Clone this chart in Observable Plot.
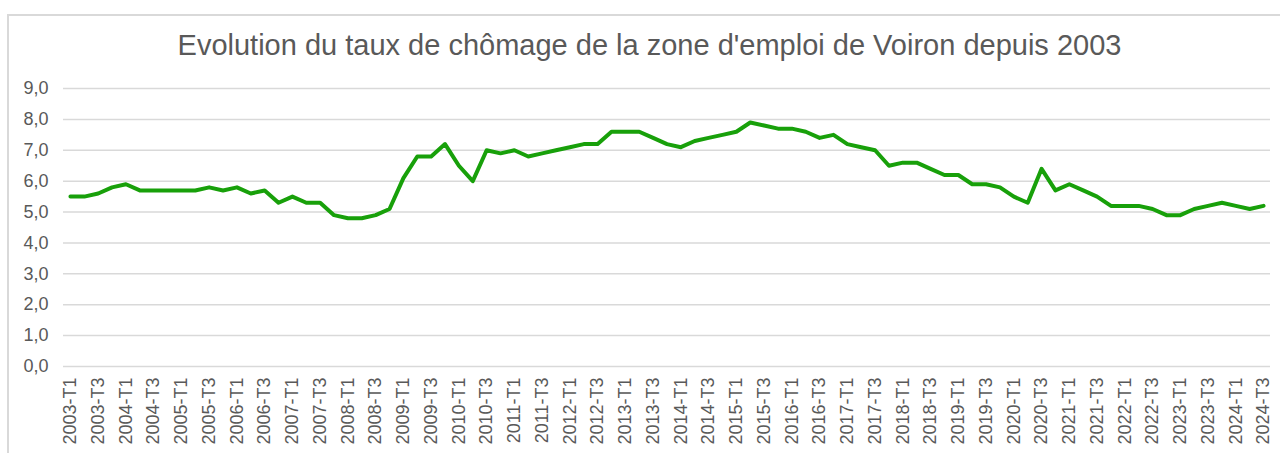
<!DOCTYPE html>
<html>
<head>
<meta charset="utf-8">
<script src="https://cdn.jsdelivr.net/npm/d3@7"></script>
<script src="https://cdn.jsdelivr.net/npm/@observablehq/plot@0.6"></script>
<style>
  html, body { margin: 0; padding: 0; background: #ffffff; width: 1280px; height: 453px; overflow: hidden; }
  #frame { position: absolute; left: 7px; top: 14px; width: 1400px; height: 600px; border-left: 2px solid #d9d9d9; border-top: 2px solid #d9d9d9; box-sizing: border-box; }
  #title { position: absolute; left: 0; top: 31px; width: 1299px; text-align: center; font-family: "Liberation Sans", Arial, sans-serif; font-size: 29px; line-height: 29px; color: #595959; white-space: nowrap; }
  #chart { position: absolute; left: 0; top: 70px; }
</style>
</head>
<body>
<div id="frame"></div>
<div id="title">Evolution du taux de chômage de la zone d'emploi de Voiron depuis 2003</div>
<div id="chart"></div>
<script>
const quarters = [
  "2003-T1","2003-T2","2003-T3","2003-T4",
  "2004-T1","2004-T2","2004-T3","2004-T4",
  "2005-T1","2005-T2","2005-T3","2005-T4",
  "2006-T1","2006-T2","2006-T3","2006-T4",
  "2007-T1","2007-T2","2007-T3","2007-T4",
  "2008-T1","2008-T2","2008-T3","2008-T4",
  "2009-T1","2009-T2","2009-T3","2009-T4",
  "2010-T1","2010-T2","2010-T3","2010-T4",
  "2011-T1","2011-T2","2011-T3","2011-T4",
  "2012-T1","2012-T2","2012-T3","2012-T4",
  "2013-T1","2013-T2","2013-T3","2013-T4",
  "2014-T1","2014-T2","2014-T3","2014-T4",
  "2015-T1","2015-T2","2015-T3","2015-T4",
  "2016-T1","2016-T2","2016-T3","2016-T4",
  "2017-T1","2017-T2","2017-T3","2017-T4",
  "2018-T1","2018-T2","2018-T3","2018-T4",
  "2019-T1","2019-T2","2019-T3","2019-T4",
  "2020-T1","2020-T2","2020-T3","2020-T4",
  "2021-T1","2021-T2","2021-T3","2021-T4",
  "2022-T1","2022-T2","2022-T3","2022-T4",
  "2023-T1","2023-T2","2023-T3","2023-T4",
  "2024-T1","2024-T2","2024-T3"
];

const tauxChomage = [
  5.5, 5.5, 5.6, 5.8,
  5.9, 5.7, 5.7, 5.7,
  5.7, 5.7, 5.8, 5.7,
  5.8, 5.6, 5.7, 5.3,
  5.5, 5.3, 5.3, 4.9,
  4.8, 4.8, 4.9, 5.1,
  6.1, 6.8, 6.8, 7.2,
  6.5, 6.0, 7.0, 6.9,
  7.0, 6.8, 6.9, 7.0,
  7.1, 7.2, 7.2, 7.6,
  7.6, 7.6, 7.4, 7.2,
  7.1, 7.3, 7.4, 7.5,
  7.6, 7.9, 7.8, 7.7,
  7.7, 7.6, 7.4, 7.5,
  7.2, 7.1, 7.0, 6.5,
  6.6, 6.6, 6.4, 6.2,
  6.2, 5.9, 5.9, 5.8,
  5.5, 5.3, 6.4, 5.7,
  5.9, 5.7, 5.5, 5.2,
  5.2, 5.2, 5.1, 4.9,
  4.9, 5.1, 5.2, 5.3,
  5.2, 5.1, 5.2
];

const yTicks = [0, 1, 2, 3, 4, 5, 6, 7, 8, 9];
const xTicks = quarters.filter(q => q.endsWith("T1") || q.endsWith("T3"));

const data = quarters.map((q, i) => ({quarter: q, taux: tauxChomage[i]}));

const chart = Plot.plot({
  width: 1280,
  height: 383,
  marginLeft: 63,
  marginRight: 10,
  marginTop: 18,
  marginBottom: 87,
  style: {
    fontFamily: "'Liberation Sans', Arial, sans-serif",
    fontSize: "18px",
    color: "#595959",
    background: "transparent"
  },
  x: {type: "point", domain: quarters, padding: 0.5, align: 0.5, label: null},
  y: {domain: [0, 9], label: null},
  marks: [
    Plot.gridY(yTicks, {stroke: "#d9d9d9", strokeOpacity: 1, strokeWidth: 1.5}),
    Plot.axisY(yTicks, {
      tickSize: 0,
      tickPadding: 15,
      label: null,
      fill: "#595959",
      tickFormat: d => d.toFixed(1).replace(".", ",")
    }),
    Plot.axisX(xTicks, {
      tickSize: 0,
      tickPadding: 11,
      tickRotate: -90,
      label: null,
      fill: "#595959"
    }),
    Plot.line(data, {
      x: "quarter",
      y: "taux",
      stroke: "#18a00a",
      strokeWidth: 4,
      strokeLinejoin: "round",
      strokeLinecap: "round"
    })
  ]
});

document.getElementById("chart").appendChild(chart);
</script>
</body>
</html>
